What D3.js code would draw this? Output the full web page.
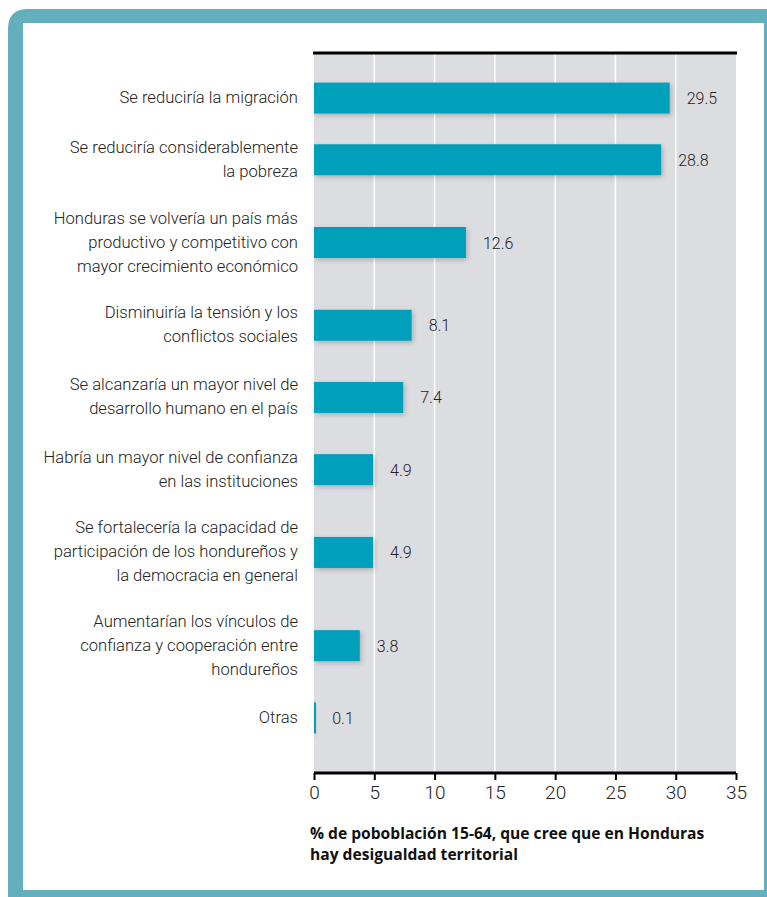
<!DOCTYPE html>
<html><head><meta charset="utf-8">
<script src="https://cdn.jsdelivr.net/npm/d3@7"></script>
<style>html,body{margin:0;padding:0;background:#fff}svg{display:block}</style>
</head><body><div id="chart"></div>
<script>
const categories = [
  "Se reduciría la migración",
  "Se reduciría considerablemente\nla pobreza",
  "Honduras se volvería un país más\nproductivo y competitivo con\nmayor crecimiento económico",
  "Disminuiría la tensión y los\nconflictos sociales",
  "Se alcanzaría un mayor nivel de\ndesarrollo humano en el país",
  "Habría un mayor nivel de confianza\nen las instituciones",
  "Se fortalecería la capacidad de\nparticipación de los hondureños y\nla democracia en general",
  "Aumentarían los vínculos de\nconfianza y cooperación entre\nhondureños",
  "Otras"
];
const values = [29.5, 28.8, 12.6, 8.1, 7.4, 4.9, 4.9, 3.8, 0.1];
const valueLabels = ["29.5","28.8","12.6","8.1","7.4","4.9","4.9","3.8","0.1"];
const xTicks = [0,5,10,15,20,25,30,35];
const axisTitle = ["% de poboblación 15-64, que cree que en Honduras", "hay desigualdad territorial"];

const W = 767, H = 897;
const svg = d3.select("#chart").append("svg").attr("width", W).attr("height", H);

// frame
const teal = "#64afbe";
svg.append("path")
  .attr("d", "M8,897 L8,29 Q8,9 28,9 L767,9 L767,23 L23,23 L23,890 L767,890 L767,897 Z")
  .attr("fill", teal);
svg.append("rect").attr("x", 764).attr("y", 9).attr("width", 3).attr("height", 888).attr("fill", teal);

const defs = svg.append("defs");
const f = defs.append("filter").attr("id","sh").attr("x","-10%").attr("y","-30%").attr("width","130%").attr("height","180%");
f.append("feDropShadow").attr("dx",1.5).attr("dy",2).attr("stdDeviation",2.5).attr("flood-color","#000").attr("flood-opacity",0.22);

const plotTop = 54, plotBottom = 773;
const x = d3.scaleLinear().domain([0, 35]).range([314, 736]);

// vertical layout weighted by label line count
const lines = categories.map(c => c.split("\n").length);
const k = 1.43;
const slot = lines.map(l => l + k);
const cum = [0];
slot.forEach((s, i) => cum.push(cum[i] + s));
const y = d3.scaleLinear().domain([0, cum[cum.length-1]]).range([72.5, 743.5]);
const centers = categories.map((c, i) => y(cum[i] + slot[i] / 2));
const barH = 31;

// background
svg.append("rect").attr("x", x(0)).attr("y", plotTop).attr("width", x(35) - x(0))
  .attr("height", plotBottom - plotTop).attr("fill", "#dcdde0");

// grid
svg.append("g").selectAll("line").data(xTicks.filter(t => t > 0 && t < 35)).join("line")
  .attr("x1", d => x(d)).attr("x2", d => x(d)).attr("y1", plotTop).attr("y2", plotBottom)
  .attr("stroke", "#fff").attr("stroke-width", 1.5);

// top line
svg.append("line").attr("x1", x(0) - 1).attr("x2", x(35) + 1).attr("y1", 53).attr("y2", 53)
  .attr("stroke", "#000").attr("stroke-width", 3);

// bars
svg.append("g").selectAll("rect").data(values).join("rect")
  .attr("x", x(0)).attr("y", (d, i) => centers[i] - barH / 2)
  .attr("width", d => Math.max(2, x(d) - x(0))).attr("height", barH)
  .attr("fill", "#009fbc").attr("filter", "url(#sh)");

// value labels
svg.append("g").selectAll("text").data(values).join("text")
  .attr("x", d => x(d) + 17).attr("y", (d, i) => centers[i] + 6)
  .attr("font-family", "Roboto, sans-serif").attr("font-weight", 300)
  .attr("font-size", 16).attr("fill", "#222")
  .text((d, i) => valueLabels[i]);

// category labels
const lh = 24;
const cg = svg.append("g").attr("font-family", "Roboto, sans-serif").attr("font-weight", 300)
  .attr("font-size", 16.6).attr("fill", "#222").attr("text-anchor", "end");
categories.forEach((c, i) => {
  const ls = c.split("\n");
  const t = cg.append("text").attr("x", 298);
  ls.forEach((l, j) => {
    t.append("tspan").attr("x", 298)
      .attr("y", centers[i] + (j - (ls.length - 1) / 2) * lh + 5)
      .text(l);
  });
});

// x axis
const ax = svg.append("g").attr("transform", `translate(0,${plotBottom})`)
  .call(d3.axisBottom(x).tickValues(xTicks).tickSize(7).tickPadding(6).tickFormat(d3.format("d")));
ax.select(".domain").attr("stroke", "#000").attr("stroke-width", 3).attr("d", `M${x(0)},0H${x(35)}`);
ax.selectAll(".tick line").attr("stroke", "#000").attr("stroke-width", 2);
ax.selectAll(".tick text").attr("font-family", "Roboto, sans-serif").attr("font-weight", 300)
  .attr("font-size", 19).attr("fill", "#222");

// axis title
const at = svg.append("text").attr("font-family", "'Open Sans', sans-serif").attr("font-weight", 700)
  .attr("font-size", 15.6).attr("fill", "#111");
axisTitle.forEach((l, j) => at.append("tspan").attr("x", 310).attr("y", 839 + j * 21).text(l));
</script></body></html>
